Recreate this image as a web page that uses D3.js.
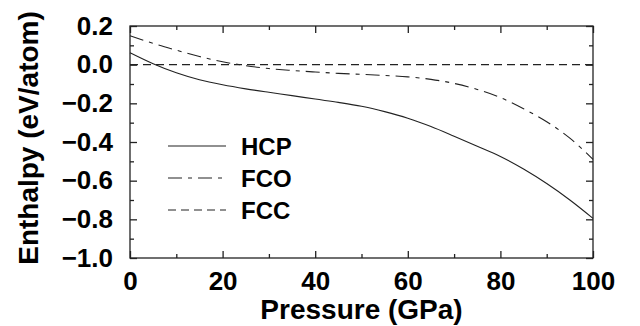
<!DOCTYPE html>
<html>
<head>
<meta charset="utf-8">
<script src="https://cdn.jsdelivr.net/npm/d3@7"></script>
<style>
  body { margin: 0; background: #fff; }
  text { font-family: "Liberation Sans", Arial, Helvetica, sans-serif; font-weight: bold; }
</style>
</head>
<body>
<div id="chart"></div>
<script>
// pressure grid (GPa)
var pressure = [0, 5, 10, 15, 20, 25, 30, 35, 40, 45, 50, 55, 60, 65, 70, 75, 80, 85, 90, 95, 100];
// enthalpy relative to FCC (eV/atom)
var hcp = [0.062, 0.005, -0.042, -0.078, -0.104, -0.125, -0.143, -0.160, -0.178, -0.195, -0.215,
           -0.243, -0.277, -0.320, -0.370, -0.422, -0.475, -0.540, -0.615, -0.700, -0.795];
var fco = [0.150, 0.110, 0.075, 0.042, 0.015, -0.005, -0.020, -0.030, -0.038, -0.045, -0.050,
           -0.056, -0.063, -0.076, -0.097, -0.128, -0.170, -0.228, -0.295, -0.380, -0.490];
var fcc = [0, 0, 0, 0, 0, 0, 0, 0, 0, 0, 0, 0, 0, 0, 0, 0, 0, 0, 0, 0, 0];

var seriesNames = ["HCP", "FCO", "FCC"];
var xTicks = [0, 20, 40, 60, 80, 100];
var yTicks = [0.2, 0.0, -0.2, -0.4, -0.6, -0.8, -1.0];

var margin = {left: 130, right: 47, top: 26, bottom: 68};
var width = 640 - margin.left - margin.right,
    height = 326 - margin.top - margin.bottom;

var x = d3.scaleLinear().domain([0, 100]).range([0, width]);
var y = d3.scaleLinear().domain([-1.0, 0.2]).range([height, 0]);

var dashes = {HCP: null, FCO: "14,6,4,6", FCC: "8,5"};
var values = {HCP: hcp, FCO: fco, FCC: fcc};

var svg = d3.select("#chart").append("svg")
  .attr("width", 640)
  .attr("height", 326)
  .append("g")
    .attr("transform", "translate(" + margin.left + "," + margin.top + ")");

//frame
svg.append("rect")
  .attr("width", width)
  .attr("height", height)
  .style("fill", "none")
  .style("stroke", "#222")
  .style("stroke-width", "1.3px");

var fmt = function(d){ return d < 0 ? "\u2212" + d3.format(".1f")(-d) : d3.format(".1f")(d); };
var minorX = d3.range(10, 100, 20);
var minorY = d3.range(-0.9, 0.2, 0.2);

function ticks(g) {
  g.select(".domain").remove();
  g.selectAll("line").style("stroke", "#222").style("stroke-width", "1.3px");
}

//bottom axis
svg.append("g")
  .attr("transform", "translate(0," + height + ")")
  .call(d3.axisBottom(x).tickValues(xTicks).tickSize(-7).tickPadding(14).tickFormat(d3.format("d")))
  .call(ticks)
  .selectAll("text").style("font-size", "26px").style("fill", "#000");
svg.append("g")
  .attr("transform", "translate(0," + height + ")")
  .call(d3.axisBottom(x).tickValues(minorX).tickSize(-4).tickFormat(""))
  .call(ticks);
//top axis
svg.append("g")
  .call(d3.axisTop(x).tickValues(xTicks).tickSize(-7).tickFormat(""))
  .call(ticks);
svg.append("g")
  .call(d3.axisTop(x).tickValues(minorX).tickSize(-4).tickFormat(""))
  .call(ticks);

//left axis
svg.append("g")
  .call(d3.axisLeft(y).tickValues(yTicks).tickSize(-7).tickPadding(17).tickFormat(fmt))
  .call(ticks)
  .selectAll("text").style("font-size", "26px").style("fill", "#000");
svg.append("g")
  .call(d3.axisLeft(y).tickValues(minorY).tickSize(-4).tickFormat(""))
  .call(ticks);
//right axis
svg.append("g")
  .attr("transform", "translate(" + width + ",0)")
  .call(d3.axisRight(y).tickValues(yTicks).tickSize(-7).tickFormat(""))
  .call(ticks);
svg.append("g")
  .attr("transform", "translate(" + width + ",0)")
  .call(d3.axisRight(y).tickValues(minorY).tickSize(-4).tickFormat(""))
  .call(ticks);

//curves
var line = d3.line()
  .curve(d3.curveMonotoneX)
  .x(function(d){ return x(d.p); })
  .y(function(d){ return y(d.e); });

seriesNames.forEach(function(name){
  var data = pressure.map(function(p, i){ return {p: p, e: values[name][i]}; });
  svg.append("path")
    .datum(data)
    .style("fill", "none")
    .style("stroke", "#222")
    .style("stroke-width", "1.1px")
    .style("stroke-dasharray", dashes[name])
    .attr("d", line);
});

//legend
var legend = svg.selectAll(".legend")
  .data(seriesNames)
  .enter().append("g")
    .attr("class", "legend")
    .attr("transform", function(d, i){ return "translate(38," + (120 + i * 32) + ")"; });

legend.append("line")
  .attr("x1", 0)
  .attr("x2", 58)
  .style("stroke", "#222")
  .style("stroke-width", "1.1px")
  .style("stroke-dasharray", function(d){ return dashes[d]; });

legend.append("text")
  .attr("x", 73)
  .attr("dy", "0.36em")
  .style("font-size", "24px")
  .text(function(d){ return d; });

//Label for Y axis
svg.append("text")
  .attr("transform", "rotate(-90)")
  .attr("y", 0 - margin.left + 38)
  .attr("x", 0 - (height / 2) + 4)
  .style("text-anchor", "middle")
  .style("font-size", "28px")
  .text("Enthalpy (eV/atom)");

//Label for X axis
svg.append("text")
  .attr("transform", "translate(" + (width / 2) + " ," + (height + 61) + ")")
  .style("text-anchor", "middle")
  .style("font-size", "28px")
  .text("Pressure (GPa)");
</script>
</body>
</html>
